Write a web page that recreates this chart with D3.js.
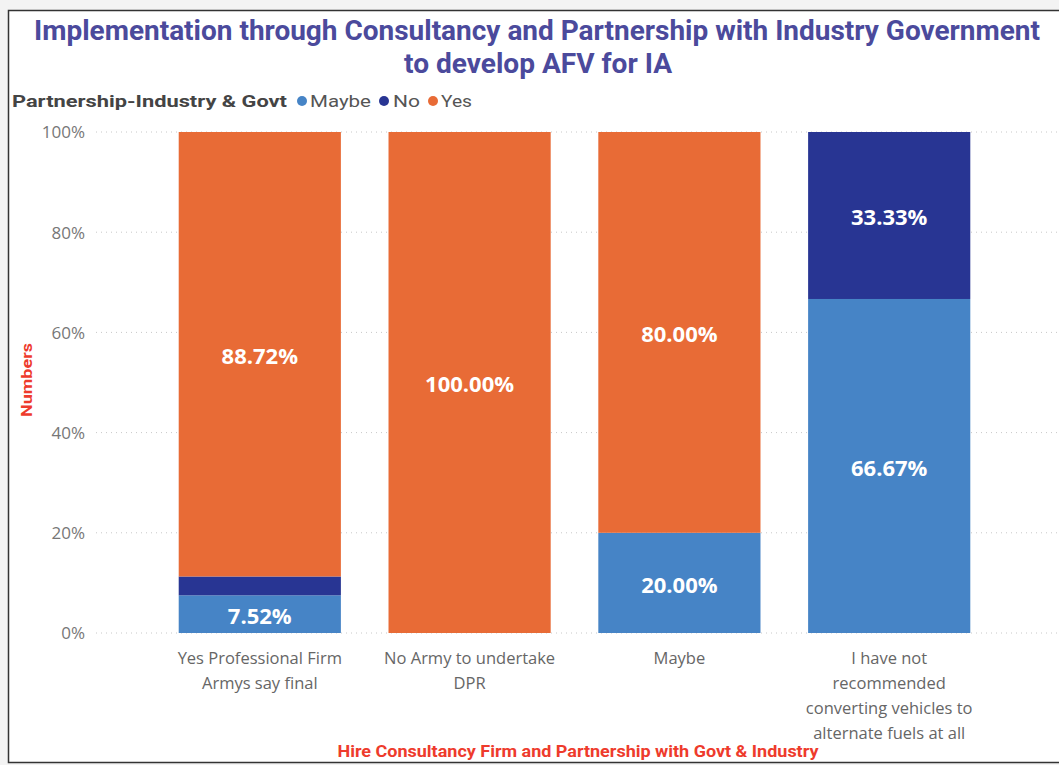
<!DOCTYPE html>
<html>
<head>
<meta charset="utf-8">
<script src="https://cdn.jsdelivr.net/npm/d3@7"></script>
<style>
  html, body { margin: 0; padding: 0; background: #f3f3f3; }
  svg { display: block; }
</style>
</head>
<body>
<svg id="chart" width="1059" height="765"></svg>
<script>
// Response categories (x axis)
const categories = [
  ["Yes Professional Firm", "Armys say final"],
  ["No Army to undertake", "DPR"],
  ["Maybe"],
  ["I have not", "recommended", "converting vehicles to", "alternate fuels at all"]
];
// Share of each answer per category (%)
const maybeValues = [7.52, 0, 20.00, 66.67];
const noValues    = [3.76, 0, 0, 33.33];
const yesValues   = [88.72, 100.00, 80.00, 0];
const seriesNames = ["Maybe", "No", "Yes"];
const yTicks = [0, 20, 40, 60, 80, 100];

const colors = { Maybe: "#4684C6", No: "#283593", Yes: "#E86B36" };

const svg = d3.select("#chart");
const W = 1059, H = 765;

// Card background with border
svg.append("rect")
  .attr("x", 8.5).attr("y", 10.5)
  .attr("width", W + 10).attr("height", 752)
  .attr("fill", "#fff").attr("stroke", "#333").attr("stroke-width", 1.5);

// Title
const titleFont = "Roboto, 'DejaVu Sans', sans-serif";
const bodyFont = "'Open Sans', 'DejaVu Sans', sans-serif";
svg.append("text")
  .attr("x", 537).attr("y", 40)
  .attr("text-anchor", "middle")
  .attr("font-family", titleFont).attr("font-weight", 700)
  .attr("font-size", 27).attr("fill", "#4B4A9C")
  .attr("textLength", 1006).attr("lengthAdjust", "spacingAndGlyphs")
  .text("Implementation through Consultancy and Partnership with Industry Government");
svg.append("text")
  .attr("x", 538).attr("y", 73)
  .attr("text-anchor", "middle")
  .attr("font-family", titleFont).attr("font-weight", 700)
  .attr("font-size", 27).attr("fill", "#4B4A9C")
  .attr("textLength", 268).attr("lengthAdjust", "spacingAndGlyphs")
  .text("to develop AFV for IA");

// Legend
const legend = svg.append("g");
legend.append("text")
  .attr("x", 12).attr("y", 107)
  .attr("font-family", titleFont).attr("font-weight", 700)
  .attr("font-size", 17).attr("fill", "#444")
  .attr("textLength", 275).attr("lengthAdjust", "spacingAndGlyphs")
  .text("Partnership-Industry & Govt");
const legendItems = [
  { name: "Maybe", cx: 302, tx: 310, tw: 61 },
  { name: "No", cx: 384, tx: 393, tw: 27 },
  { name: "Yes", cx: 433, tx: 441, tw: 31 }
];
legendItems.forEach(d => {
  legend.append("circle").attr("cx", d.cx).attr("cy", 101).attr("r", 5).attr("fill", colors[d.name]);
  legend.append("text")
    .attr("x", d.tx).attr("y", 107)
    .attr("font-family", titleFont).attr("font-size", 17).attr("fill", "#555")
    .attr("textLength", d.tw).attr("lengthAdjust", "spacingAndGlyphs")
    .text(d.name);
});

// Scales
const x = d3.scaleBand()
  .domain(d3.range(categories.length))
  .range([155, 994])
  .paddingInner(0.227)
  .paddingOuter(0.113);
const y = d3.scaleLinear().domain([0, 100]).range([633, 132]);

// Grid lines + y tick labels
const gridG = svg.append("g");
yTicks.forEach(t => {
  gridG.append("line")
    .attr("x1", 96).attr("x2", W)
    .attr("y1", y(t)).attr("y2", y(t))
    .attr("stroke", "#c8c8c8").attr("stroke-width", 1)
    .attr("stroke-dasharray", "1,4");
});
const yAxis = d3.axisLeft(y).tickValues(yTicks).tickSize(0).tickPadding(0).tickFormat(d => d + "%");
svg.append("g")
  .attr("transform", "translate(85,0)")
  .call(yAxis)
  .call(g => g.select(".domain").remove())
  .selectAll("text")
  .attr("font-family", bodyFont)
  .attr("font-size", 17).attr("fill", "#777")
  .attr("dy", "0.35em");

// Stacked data
const rows = categories.map((c, i) => ({ i, Maybe: maybeValues[i], No: noValues[i], Yes: yesValues[i] }));
const stack = d3.stack().keys(seriesNames)(rows);

const barG = svg.append("g");
stack.forEach(layer => {
  barG.selectAll(null)
    .data(layer.filter(d => d[1] - d[0] > 0))
    .enter().append("rect")
    .attr("x", d => x(d.data.i))
    .attr("width", x.bandwidth())
    .attr("y", d => y(d[1]))
    .attr("height", d => y(d[0]) - y(d[1]))
    .attr("fill", colors[layer.key]);
});

// Value labels inside segments large enough to hold them
stack.forEach(layer => {
  barG.selectAll(null)
    .data(layer.filter(d => d[1] - d[0] > 5))
    .enter().append("text")
    .attr("x", d => x(d.data.i) + x.bandwidth() / 2)
    .attr("y", d => (y(d[0]) + y(d[1])) / 2 + 2)
    .attr("dy", "0.35em")
    .attr("text-anchor", "middle")
    .attr("font-family", bodyFont)
    .attr("font-weight", 700).attr("font-size", 22).attr("fill", "#fff")
    .text(d => (d[1] - d[0]).toFixed(2) + "%");
});

// X category labels
const xLab = svg.append("g");
categories.forEach((lines, i) => {
  const t = xLab.append("text")
    .attr("text-anchor", "middle")
    .attr("font-family", bodyFont)
    .attr("font-size", 16.5).attr("fill", "#666");
  lines.forEach((ln, k) => {
    t.append("tspan")
      .attr("x", x(i) + x.bandwidth() / 2)
      .attr("y", 664 + k * 25)
      .text(ln);
  });
});

// Axis titles
svg.append("text")
  .attr("x", 578).attr("y", 757)
  .attr("text-anchor", "middle")
  .attr("font-family", titleFont).attr("font-weight", 700)
  .attr("font-size", 16).attr("fill", "#EE3B2C")
  .attr("textLength", 481).attr("lengthAdjust", "spacingAndGlyphs")
  .text("Hire Consultancy Firm and Partnership with Govt & Industry");
svg.append("text")
  .attr("transform", "translate(32,380) rotate(-90)")
  .attr("text-anchor", "middle")
  .attr("font-family", titleFont).attr("font-weight", 700)
  .attr("font-size", 15).attr("fill", "#EE3B2C")
  .attr("textLength", 74).attr("lengthAdjust", "spacingAndGlyphs")
  .text("Numbers");
</script>
</body>
</html>
